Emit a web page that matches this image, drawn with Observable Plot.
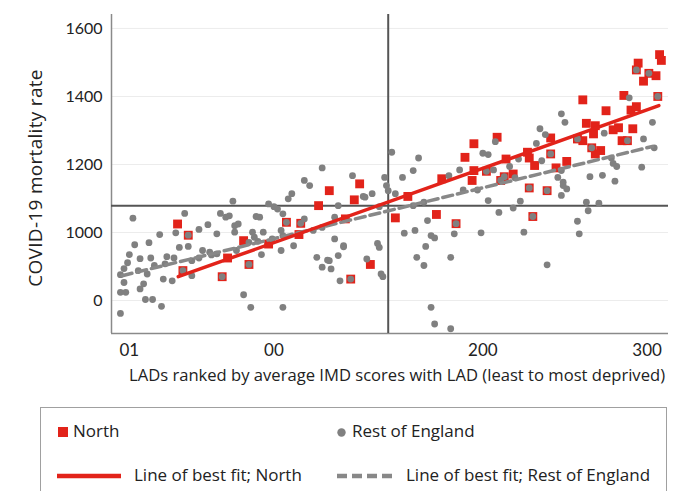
<!DOCTYPE html>
<html>
<head>
<meta charset="utf-8">
<script src="https://cdn.jsdelivr.net/npm/d3@7"></script>
<script src="https://cdn.jsdelivr.net/npm/@observablehq/plot@0.6"></script>
<style>
  html, body { margin: 0; padding: 0; background: #fff; }
  body { width: 686px; height: 491px; position: relative; overflow: hidden; font-family: "Open Sans", Lato, sans-serif; color: #222; }
  #chart { position: absolute; left: 0; top: 0; }
  #legend { position: absolute; left: 40px; top: 407px; width: 627px; height: 100px; border: 1px solid #a0a0a0; box-sizing: border-box; }
  .lg { position: absolute; font-size: 17px; line-height: 20px; white-space: nowrap; color: #222; font-family: "Open Sans", sans-serif; }
</style>
</head>
<body>
<div id="chart"></div>
<div id="legend"></div>
<script>
// ---- data (rank of LAD by IMD score, COVID-19 mortality rate) ----
const north = [
  [37,1025],[43,992],[40,888],[62,870],[65,925],[74,976],[77,906],[88,966],[98,1030],[106,1027],
  [105,994],[116,1079],[122,1123],[131,1040],[134,863],[136,1096],[139,1143],[145,906],[159,1043],[166,1106],
  [182,1053],[185,1158],[193,1026],[198,1221],[203,1261],[203,1182],[202,1153],[210,1180],[216,1280],[221,1216],
  [225,1172],[220,1164],[218,1153],[233,1236],[234,1219],[237,1197],[234,1131],[244,1123],[236,1047],[246,1278],
  [246,1231],[249,1190],[255,1209],[261,1275],[264,1270],[264,1390],[266,1321],[271,1314],[270,1290],[269,1249],
  [274,1241],[271,1231],[277,1358],[281,1302],[284,1308],[286,1270],[289,1270],[287,1403],[291,1360],[294,1370],
  [292,1305],[295,1498],[294,1478],[301,1468],[305,1461],[298,1445],[306,1400],[307,1523],[308,1506]
];
const restOfEngland = [
  [12,1042],[41,1056],[61,1056],[49,1009],[54,1023],[27,994],[36,999],[13,964],[21,970],[38,956],
  [43,959],[59,996],[10,935],[22,925],[31,929],[35,925],[51,947],[56,934],[7,894],[5,876],
  [15,888],[20,878],[24,903],[30,908],[45,917],[49,925],[45,873],[29,863],[34,858],[7,853],
  [18,849],[16,834],[5,824],[8,824],[19,803],[23,803],[28,783],[5,762],[9,911],[16,923],
  [68,1092],[66,1049],[69,1020],[81,1047],[83,1045],[88,1084],[91,1076],[93,1069],[96,1055],[99,1099],
  [101,1114],[108,1153],[111,1138],[118,1190],[127,1079],[135,1167],[142,1104],[146,1114],[153,1162],[154,1138],
  [155,1123],[150,1076],[69,1001],[71,1025],[64,1045],[79,1001],[80,986],[85,1001],[90,981],[95,1006],
  [96,991],[108,1040],[95,947],[102,961],[113,1006],[118,1015],[125,1045],[125,981],[130,961],[127,932],
  [121,919],[118,898],[123,893],[115,927],[122,917],[143,922],[149,968],[150,956],[151,878],[152,870],
  [128,858],[130,958],[74,817],[78,780],[96,780],[55,942],[59,937],[70,947],[77,971],[82,974],
  [84,935],[141,1106],
  [157,1236],[172,1219],[169,1182],[163,1162],[159,1114],[189,1167],[175,1089],[169,1079],[177,1035],[164,998],
  [170,1006],[179,991],[181,984],[176,959],[190,927],[171,927],[175,903],[179,780],[181,731],[190,717],
  [244,905],[192,996],[207,999],[231,1001],[262,996],[261,1033],[217,1059],[225,1072],[229,1092],[211,1094],
  [252,1109],[253,1138],[255,1128],[266,1089],[267,1064],[273,1086],[268,1164],[275,1168],[282,1151],[195,1184],
  [252,1349],[254,1324],[240,1305],[243,1288],[215,1267],[238,1262],[208,1233],[211,1229],[228,1216],[241,1211],
  [214,1184],[223,1194],[250,1162],[226,1161],[205,1125],[197,1125],[290,1396],[276,1292],[303,1324],[298,1275],
  [304,1249],[280,1219],[281,1203],[283,1194],[297,1192],[252,1182],[253,1148],
  [43,992],[40,888],[62,870],[77,906],[98,1030],[106,1027],[134,863],[193,1026],[210,1180],[220,1164],
  [218,1153],[234,1131],[244,1123],[236,1047],[246,1231],[261,1275],[269,1249],[289,1270],[294,1478],[301,1468],
  [306,1400]
];
const northFit = [[37.4, 870], [306.6, 1373]];
const restFit = [[6, 873], [303, 1253]];
const meanRank = [155];
const meanRate = [1079];
const yTickValues = [800, 1000, 1200, 1400, 1600];
const yTickLabels = ["0", "1000", "1200", "1400", "1600"];
const xTickValues = [10, 91, 208, 300];
const xTickLabels = ["01", "00", "200", "300"];
const yTitle = "COVID-19 mortality rate";
const xTitle = "LADs ranked by average IMD scores with LAD (least to most deprived)";
const legendLabels = ["North", "Rest of England", "Line of best fit; North", "Line of best fit; Rest of England"];

const RED = "#e2231a";
const GREY = "#808080";

const chart = Plot.plot({
  width: 686,
  height: 390,
  marginLeft: 111,
  marginRight: 18,
  marginTop: 14,
  marginBottom: 57,
  x: {domain: [0, 312]},
  y: {domain: [703, 1641]},
  style: {fontFamily: "'Open Sans', Lato, sans-serif", fontSize: "16px", color: "#222", background: "#fff"},
  marks: [
    Plot.gridY(yTickValues, {stroke: "#ececec", strokeOpacity: 1, strokeWidth: 1}),
    Plot.ruleX([0], {stroke: "#8a8a8a", strokeWidth: 1.5}),
    Plot.ruleY([703], {stroke: "#8a8a8a", strokeWidth: 1.5}),
    Plot.ruleX(meanRank, {stroke: "#555", strokeWidth: 2}),
    Plot.ruleY(meanRate, {stroke: "#555", strokeWidth: 2}),
    Plot.dot(north, {x: d => d[0], y: d => d[1], symbol: "square", r: 5, fill: RED, stroke: "none"}),
    Plot.dot(restOfEngland, {x: d => d[0], y: d => d[1], r: 3.4, fill: GREY, stroke: "none"}),
    Plot.line(restFit, {x: d => d[0], y: d => d[1], stroke: "#888", strokeWidth: 3.5, strokeDasharray: "10,5"}),
    Plot.line(northFit, {x: d => d[0], y: d => d[1], stroke: RED, strokeWidth: 3.5}),
    Plot.axisY(yTickValues, {tickSize: 0, tickPadding: 9, fontSize: 16, fontFamily: "Lato, sans-serif", label: null,
      tickFormat: d => yTickLabels[yTickValues.indexOf(d)]}),
    Plot.axisX(xTickValues, {tickSize: 0, tickPadding: 10, fontSize: 17, fontFamily: "Lato, sans-serif", label: null,
      tickFormat: d => xTickLabels[xTickValues.indexOf(d)]}),
    Plot.text([yTitle], {frameAnchor: "left", textAnchor: "middle", rotate: -90, dx: -76, dy: 4, fontSize: 19}),
    Plot.text([xTitle], {frameAnchor: "bottom", textAnchor: "middle", dx: 7, dy: 47, fontSize: 16.6})
  ]
});
document.getElementById("chart").appendChild(chart);
for (const t of chart.querySelectorAll("text")) {
  if (t.textContent === yTitle) t.style.letterSpacing = "0.3px";
}

// ---- legend ----
const legend = document.getElementById("legend");
const items = [
  {label: legendLabels[0], sw: '<svg width="10" height="10"><rect x="0" y="0" width="10" height="10" fill="' + RED + '"/></svg>', sx: 17, tx: 32, y: 24},
  {label: legendLabels[1], sw: '<svg width="9" height="9"><circle cx="4.5" cy="4.5" r="4.2" fill="' + GREY + '"/></svg>', sx: 296, tx: 311, y: 24},
  {label: legendLabels[2], sw: '<svg width="64" height="6"><line x1="0" y1="3" x2="64" y2="3" stroke="' + RED + '" stroke-width="4.5"/></svg>', sx: 16, tx: 93, y: 68},
  {label: legendLabels[3], sw: '<svg width="58" height="6"><line x1="0" y1="3" x2="58" y2="3" stroke="#888" stroke-width="4.5" stroke-dasharray="10,5"/></svg>', sx: 296, tx: 365, y: 68}
];
for (const it of items) {
  const s = document.createElement("div");
  s.style.position = "absolute";
  s.style.left = it.sx + "px";
  s.innerHTML = it.sw;
  const svg = s.firstChild;
  const h = +svg.getAttribute("height");
  s.style.top = (it.y - h / 2) + "px";
  s.style.lineHeight = "0";
  legend.appendChild(s);
  const t = document.createElement("div");
  t.className = "lg";
  t.style.left = it.tx + "px";
  t.style.top = (it.y - 11) + "px";
  t.textContent = it.label;
  legend.appendChild(t);
}
</script>
</body>
</html>
